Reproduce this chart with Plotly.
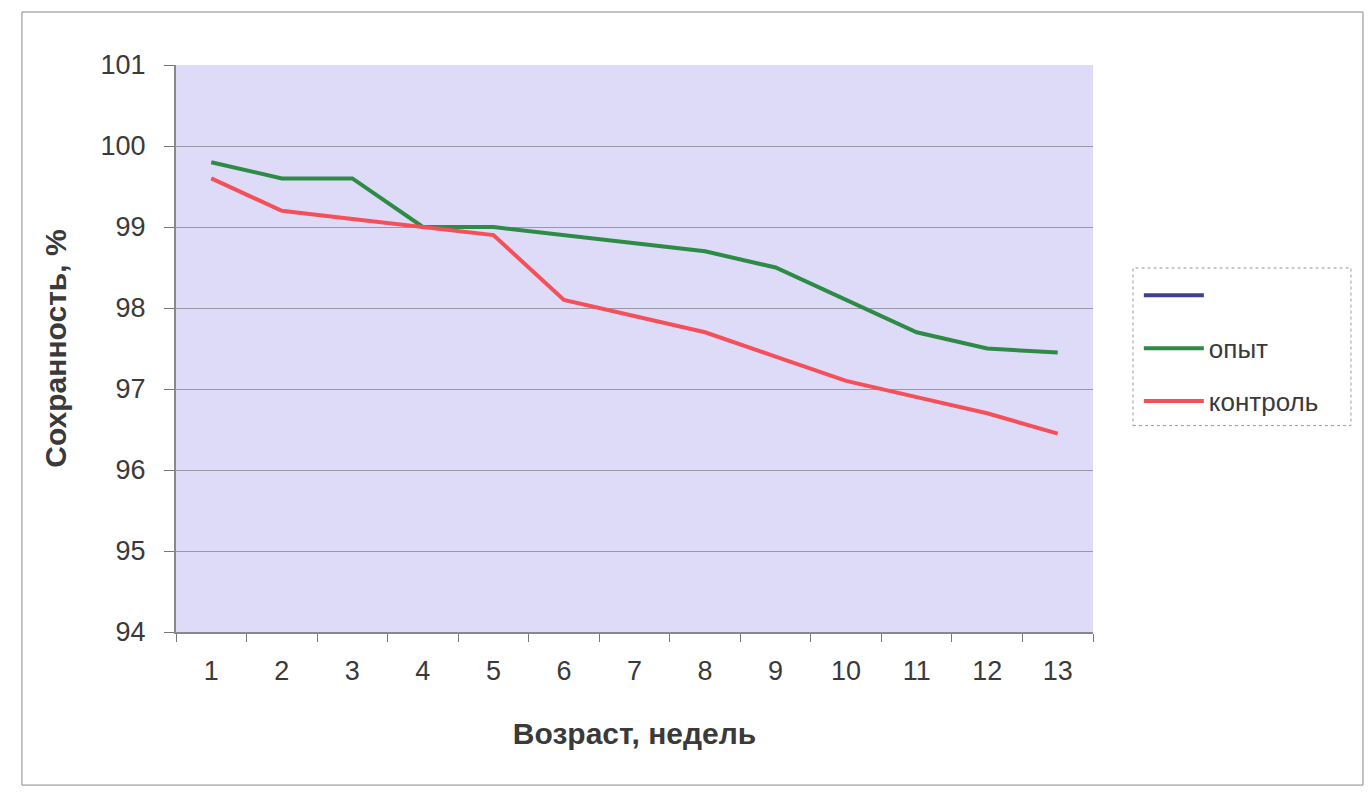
import plotly.graph_objects as go

weeks = ["1", "2", "3", "4", "5", "6", "7", "8", "9", "10", "11", "12", "13"]
opyt = [99.8, 99.6, 99.6, 99.0, 99.0, 98.9, 98.8, 98.7, 98.5, 98.1, 97.7, 97.5, 97.45]
kontrol = [99.6, 99.2, 99.1, 99.0, 98.9, 98.1, 97.9, 97.7, 97.4, 97.1, 96.9, 96.7, 96.45]
y_ticks = [94, 95, 96, 97, 98, 99, 100, 101]

FONT = "Liberation Sans, Arial, sans-serif"
TXT = "#3a3a3a"

fig = go.Figure()
fig.add_trace(go.Scatter(x=[None], y=[None], mode="lines", name=" ",
                         line=dict(color="#3f3f90", width=4), legendgroup="a"))
fig.add_trace(go.Scatter(x=weeks, y=opyt, mode="lines", name="опыт",
                         line=dict(color="#2e8b45", width=4), legendgroup="b"))
fig.add_trace(go.Scatter(x=weeks, y=kontrol, mode="lines", name="контроль",
                         line=dict(color="#f5505a", width=4), legendgroup="c"))

fig.update_layout(
    width=1372, height=802,
    margin=dict(l=176, r=279, t=65, b=170),
    paper_bgcolor="white",
    plot_bgcolor="#dddbf7",
    font=dict(family=FONT, size=27, color=TXT),
    showlegend=True,
    legend=dict(x=1.05, y=0.635, xanchor="left", yanchor="top",
                font=dict(size=26, color=TXT),
                tracegroupgap=16, bgcolor="rgba(0,0,0,0)",
                itemwidth=60),
    xaxis=dict(type="category", range=[-0.5, 12.5], showgrid=False,
               ticks="outside", tickson="boundaries", ticklen=8,
               tickcolor="#777777", showline=True, linecolor="#888888",
               linewidth=2, tickfont=dict(size=27, color=TXT),
               ticklabelstandoff=14,
               title=dict(text="<b>Возраст, недель</b>", standoff=38,
                          font=dict(size=30, color=TXT))),
    yaxis=dict(range=[94, 101], tickvals=y_ticks, showgrid=True,
               gridcolor="#9a98a8", gridwidth=1, zeroline=False,
               ticks="outside", ticklen=10, tickcolor="#777777",
               showline=True, linecolor="#888888", linewidth=2,
               tickfont=dict(size=27, color=TXT),
               ticklabelstandoff=13,
               title=dict(text="<b>Сохранность, %</b>", standoff=25,
                          font=dict(size=30, color=TXT))),
    shapes=[
        dict(type="rect", xref="paper", yref="paper", x0=-0.168, x1=1.2944,
             y0=-0.27, y1=1.0935, line=dict(color="#888888", width=1)),
        dict(type="rect", xref="paper", yref="paper", x0=1.0436, x1=1.2813,
             y0=0.364, y1=0.642, line=dict(color="#999999", width=1, dash="dot")),
    ],
)

fig.write_html("out.html")
